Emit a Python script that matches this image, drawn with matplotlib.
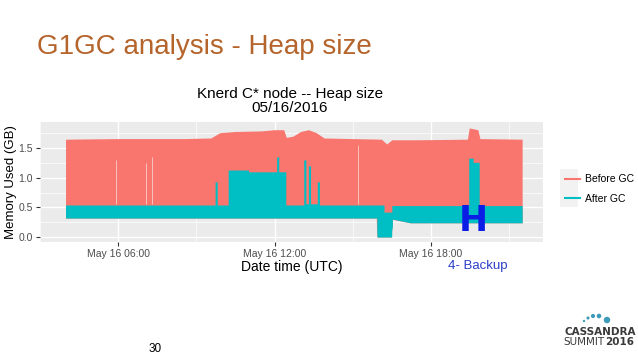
import numpy as np
import matplotlib
matplotlib.use("Agg")
import matplotlib.pyplot as plt
from matplotlib.lines import Line2D

plt.rcParams['font.family'] = ['Liberation Sans', 'DejaVu Sans']

# hours since May 16 00:00 (UTC), memory in GB
red_t = [3.98, 6.0, 8.5, 9.55, 9.9, 10.5, 11.5, 12.0, 12.35, 12.45, 12.7, 13.0, 13.3, 13.6, 13.9, 15.0, 16.1, 16.3, 16.5, 17.5, 19.4, 19.47, 19.8, 19.88, 21.5]
red_top = [1.65, 1.66, 1.66, 1.67, 1.76, 1.78, 1.79, 1.81, 1.81, 1.68, 1.70, 1.78, 1.81, 1.76, 1.67, 1.66, 1.65, 1.57, 1.64, 1.64, 1.65, 1.84, 1.81, 1.66, 1.65]

# after-GC upper edge, held until the next time (spiky)
teal_t = [3.98, 9.72, 9.8, 10.22, 11.0, 12.08, 12.16, 12.43, 13.12, 13.2, 13.3, 13.38, 13.64, 13.72, 16.2, 16.5, 19.45, 19.62, 19.85, 21.5]
teal_top = [0.54, 0.93, 0.54, 1.13, 1.10, 1.35, 1.10, 0.54, 1.30, 0.56, 1.20, 0.56, 0.93, 0.54, 0.42, 0.53, 1.33, 1.26, 0.53, 0.53]

low_t = [3.98, 15.9, 15.93, 16.48, 16.52, 17.2, 21.5]
teal_low = [0.32, 0.32, 0.0, 0.0, 0.30, 0.24, 0.24]

# thin dropouts seen in the before-GC band
gap_t = [5.92, 7.06, 7.29, 15.2]
gap_top = [1.30, 1.25, 1.35, 1.55]

fig = plt.figure(figsize=(6.38, 3.59), dpi=100)
fig.text(37 / 638, 1 - 47 / 359, "G1GC analysis - Heap size", fontsize=20,
         color="#B5642B", va="center", ha="left")

ax = fig.add_axes([40 / 638, 1 - 242 / 359, 503 / 638, 120 / 359])
ax.set_facecolor("#EBEBEB")
for s in ax.spines.values():
    s.set_visible(False)

t = np.union1d(np.union1d(red_t, teal_t), low_t)
t = np.union1d(t, np.linspace(3.98, 21.5, 400))
r_top = np.interp(t, red_t, red_top)
g_low = np.interp(t, low_t, teal_low)
idx = np.clip(np.searchsorted(teal_t, t, side='right') - 1, 0, len(teal_top) - 1)
g_top = np.asarray(teal_top)[idx]

ax.fill_between(t, g_low, r_top, color="#F8766D", lw=0)
ax.fill_between(t, g_low, g_top, step='post', color="#00BFC4", lw=0)
ax.vlines(gap_t, 0.56, gap_top, color="#F7D0CB", lw=0.6)

ax.set_xlim(3.19, 22.3)
ax.set_ylim(-0.084, 1.94)
ax.set_xticks([6, 12, 18])
ax.set_xticklabels(["May 16 06:00", "May 16 12:00", "May 16 18:00"])
ax.set_xticks([3, 9, 15, 21], minor=True)
ax.set_yticks([0, 0.5, 1.0, 1.5])
ax.set_yticklabels(["0.0", "0.5", "1.0", "1.5"])
ax.set_yticks([0.25, 0.75, 1.25, 1.75], minor=True)
ax.grid(which='major', color='white', lw=1.0)
ax.grid(which='minor', color='white', lw=0.5)
ax.set_axisbelow(True)
ax.tick_params(which='major', length=3, width=0.8, color="#333333",
               labelcolor="#4D4D4D", labelsize=7.5, pad=2)
ax.tick_params(which='minor', length=0)

ax.set_xlabel("Date time (UTC)", fontsize=10, labelpad=1)
ax.set_ylabel("Memory Used (GB)", fontsize=9.5, labelpad=1)
fig.text(290 / 638, 1 - 101 / 359, "Knerd C* node -- Heap size\n05/16/2016",
         fontsize=11, ha="center", va="center", linespacing=1.05)

# overlay in pixel coordinates for legend keys and logo
lax = fig.add_axes([0, 0, 1, 1], facecolor='none')
lax.set_xlim(0, 638)
lax.set_ylim(359, 0)
lax.axis('off')
lax.add_patch(plt.Rectangle((560, 169), 18, 38, color="#F2F2F2", lw=0))

handles = [Line2D([], [], color="#F8766D", lw=1.5), Line2D([], [], color="#00BFC4", lw=1.5)]
fig.legend(handles, ["Before GC", "After GC"], loc="center left",
           bbox_to_anchor=(556 / 638, 1 - 189 / 359), frameon=False,
           fontsize=7.5, handlelength=1.4, handletextpad=0.5, labelspacing=0.9)

# annotation from the slide
ax.text(19.62, -0.02, "H", fontsize=25, fontweight="bold", color="#0A1EE6",
        family="Liberation Sans Narrow", ha="center", va="bottom")
fig.text(478 / 638, 1 - 266 / 359, "4- Backup", fontsize=9.5, color="#2B3FC8",
         ha="center", va="center")

fig.text(155 / 638, 1 - 349 / 359, "30", fontsize=8.5, ha="center", va="center")

# logo
dx = [584, 588, 593, 599, 607]
dy = [321, 318, 316, 316, 320]
ds = [3, 5, 9, 11, 22]
lax.scatter(dx, dy, s=ds, color="#3E9CB8", lw=0)
fig.text(600 / 638, 1 - 332 / 359, "CASSANDRA", fontsize=7.5, fontweight="bold",
         family="Liberation Sans Narrow", color="#3A3A3A", ha="center", va="center")
fig.text(605 / 638, 1 - 342 / 359, "SUMMIT", fontsize=7.5, family="Liberation Sans Narrow",
         color="#3A3A3A", ha="right", va="center")
fig.text(605 / 638, 1 - 342 / 359, "2016", fontsize=7.5, fontweight="bold",
         family="Liberation Sans Narrow", color="#3A3A3A", ha="left", va="center")

fig.savefig("out.png", dpi=100)
